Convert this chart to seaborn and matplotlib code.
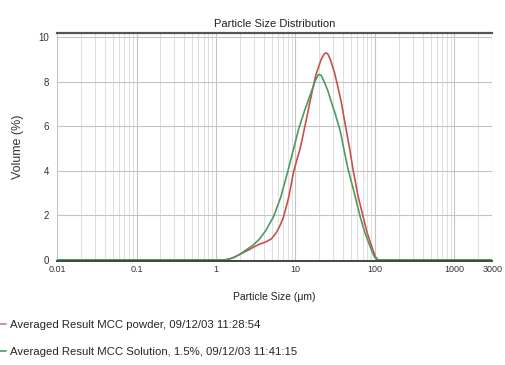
import pandas as pd
import matplotlib.pyplot as plt
import seaborn as sns
from matplotlib.ticker import FixedLocator, LogLocator, NullFormatter

# --- datos ---
labels = ['Averaged Result MCC powder, 09/12/03 11:28:54',
          'Averaged Result MCC Solution, 1.5%, 09/12/03 11:41:15']

size_powder = [0.01, 1.3, 1.5, 1.7, 2.0, 2.58, 3.0, 3.5, 4.2, 5.0, 5.8, 6.5, 7.1, 8.2, 9.4,
               10.4, 11.45, 13.5, 15.4, 18, 21, 23, 24.2, 25.5, 27.5, 31, 34, 37.6, 43.4,
               48, 53, 61, 70.8, 80, 89, 95, 102, 110, 3000]
vol_powder = [0, 0, 0.05, 0.12, 0.25, 0.45, 0.58, 0.7, 0.8, 0.95, 1.25, 1.6, 1.95, 2.8, 3.9,
              4.5, 5.0, 6.2, 7.2, 8.3, 9.0, 9.25, 9.3, 9.25, 9.0, 8.4, 7.8, 7.1, 5.85,
              5.0, 4.05, 2.9, 1.95, 1.2, 0.7, 0.4, 0.12, 0, 0]

size_solution = [0.01, 1.3, 1.5, 1.7, 2.0, 2.4, 2.9, 3.45, 4.2, 5.3, 6.5, 7.9, 9.4, 11, 13,
                 15.3, 17.5, 19.4, 21, 23, 25.5, 28.2, 32, 36.5, 41, 46, 55, 65, 75, 89,
                 98, 106, 3000]
vol_solution = [0, 0, 0.05, 0.12, 0.25, 0.45, 0.65, 0.9, 1.3, 1.95, 2.8, 3.9, 4.95, 5.9, 6.7,
                7.4, 8.0, 8.33, 8.3, 8.0, 7.6, 7.1, 6.5, 5.8, 4.9, 4.05, 3.0, 1.95, 1.2, 0.5,
                0.15, 0, 0]

x_ticks = [0.01, 0.1, 1, 10, 100, 1000, 3000]
x_tick_labels = ['0.01', '0.1', '1', '10', '100', '1000', '3000']
y_ticks = [0, 2, 4, 6, 8, 10]

df = pd.concat([
    pd.DataFrame({'size': size_powder, 'vol': vol_powder, 'serie': labels[0]}),
    pd.DataFrame({'size': size_solution, 'vol': vol_solution, 'serie': labels[1]}),
])

sns.set_style('white')
plt.rcParams['font.family'] = ['Liberation Sans', 'DejaVu Sans']

fig = plt.figure(figsize=(5.05, 3.65), dpi=100)
ax = fig.add_axes([0.113, 0.285, 0.862, 0.625])

sns.lineplot(data=df, x='size', y='vol', hue='serie', sort=False,
             palette=['#c8504a', '#4f9a5f'], linewidth=1.2, ax=ax, legend=False)

ax.set_xscale('log')
ax.set_xlim(0.01, 3000)
ax.set_ylim(-0.05, 10.2)
ax.xaxis.set_major_locator(FixedLocator(x_ticks))
ax.set_xticklabels(x_tick_labels)
ax.xaxis.set_minor_locator(LogLocator(base=10, subs=range(2, 10), numticks=20))
ax.xaxis.set_minor_formatter(NullFormatter())
ax.set_yticks(y_ticks)

ax.grid(True, which='major', axis='both', color='#c4c4c4', linewidth=0.8)
ax.grid(True, which='minor', axis='x', color='#dedede', linewidth=0.7)
ax.set_axisbelow(True)
ax.tick_params(axis='y', which='both', length=0, labelsize=7, colors='#333333', pad=6)
ax.tick_params(axis='x', which='both', length=0, labelsize=6.5, colors='#333333', pad=3)

for s in ['left', 'right']:
    ax.spines[s].set_visible(False)
ax.spines['top'].set_color('#555555')
ax.spines['top'].set_linewidth(1.6)
ax.spines['bottom'].set_color('#3c4a3c')
ax.spines['bottom'].set_linewidth(1.4)

ax.set_title('Particle Size Distribution', fontsize=8, pad=4, color='#222222')
ax.set_xlabel('Particle Size (\u03bcm)', fontsize=7.5, labelpad=13, color='#222222')
ax.set_ylabel('Volume (%)', fontsize=9, labelpad=10, color='#333333')

# leyenda abajo a la izquierda
handles = [plt.Line2D([], [], color=c, linewidth=1.2) for c in ['#e0708a', '#4f9a5f']]
fig.legend(handles, labels, loc='lower left', bbox_to_anchor=(-0.025, 0.0),
           frameon=False, fontsize=8.2, handlelength=0.9, handletextpad=0.4,
           labelspacing=1.5, borderaxespad=0.3)

fig.savefig('out.png', dpi=100, facecolor='white')
